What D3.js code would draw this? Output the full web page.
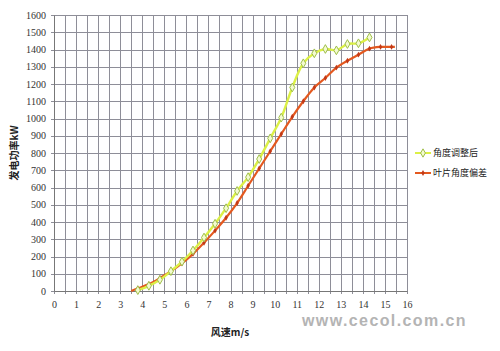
<!DOCTYPE html>
<html lang="zh">
<head>
<meta charset="utf-8">
<title>风速-发电功率曲线</title>
<script src="https://cdn.jsdelivr.net/npm/d3@7"></script>
<style>
    body { margin: 0; background: #fff; }
    svg { display: block; }
    .legend text { font-family: "Noto Sans CJK SC", sans-serif; font-size: 9px; fill: #222; }
    .title { font-family: "Noto Sans CJK SC", sans-serif; font-weight: bold; fill: #222; }
</style>
</head>
<body>
<script>
    // 风速 (m/s) 和功率 (kW)
    const speedAdj = [3.8, 4.3, 4.8, 5.3, 5.8, 6.3, 6.8, 7.3, 7.8, 8.3, 8.8, 9.3, 9.8, 10.3, 10.8, 11.3, 11.8, 12.3, 12.8, 13.3, 13.8, 14.3];
    const powerAdj = [5, 30, 65, 115, 170, 235, 310, 390, 480, 580, 660, 765, 885, 1005, 1180, 1320, 1378, 1403, 1395, 1432, 1436, 1470];

    const speedDev = [3.5, 3.8, 4.3, 4.8, 5.3, 5.8, 6.3, 6.8, 7.3, 7.8, 8.3, 8.8, 9.3, 9.8, 10.3, 10.8, 11.3, 11.8, 12.3, 12.8, 13.3, 13.8, 14.3, 14.8, 15.3, 15.45];
    const powerDev = [0, 15, 40, 75, 115, 160, 215, 280, 350, 425, 510, 610, 710, 810, 910, 1010, 1100, 1180, 1235, 1295, 1335, 1370, 1405, 1415, 1415, 1415];

    const seriesNames = ["角度调整后", "叶片角度偏差"];
    const xTicks = d3.range(0, 17, 1);
    const yTicks = d3.range(0, 1700, 100);

    const width = 500, height = 351;
    const margin = {top: 15, right: 93, bottom: 60, left: 54};

    const x = d3.scaleLinear().domain([0, 16]).range([margin.left, width - margin.right]);
    const y = d3.scaleLinear().domain([0, 1600]).range([height - margin.bottom, margin.top]);

    const svg = d3.select("body").append("svg")
        .attr("width", width)
        .attr("height", height);

    // grid, every 0.5 m/s and every 100 kW
    const grid = svg.append("g").attr("stroke", "#8e8e98").attr("stroke-width", 1);
    grid.selectAll("line.v")
        .data(d3.range(0, 16.5, 0.5))
        .join("line")
        .attr("class", "v")
        .attr("x1", d => Math.round(x(d)) + 0.5).attr("x2", d => Math.round(x(d)) + 0.5)
        .attr("y1", y(0) + 3).attr("y2", y(1600));
    grid.selectAll("line.h")
        .data(yTicks)
        .join("line")
        .attr("class", "h")
        .attr("x1", x(0) - 3).attr("x2", x(16))
        .attr("y1", d => Math.round(y(d)) + 0.5).attr("y2", d => Math.round(y(d)) + 0.5);

    // axes
    const xAxis = svg.append("g")
        .attr("transform", `translate(0,${y(0)})`)
        .call(d3.axisBottom(x).tickValues(xTicks).tickSize(0).tickPadding(10));
    xAxis.select(".domain").attr("stroke", "#777");

    const yAxis = svg.append("g")
        .attr("transform", `translate(${x(0)},0)`)
        .call(d3.axisLeft(y).tickValues(yTicks).tickFormat(d3.format("d")).tickSize(0).tickPadding(8));
    yAxis.select(".domain").attr("stroke", "#777");

    svg.selectAll(".tick text")
        .style("font-family", "'Liberation Serif', 'DejaVu Serif', serif")
        .style("font-size", "10px")
        .attr("fill", "#333");

    // lines
    const line = d3.line()
        .x(d => x(d[0]))
        .y(d => y(d[1]))
        .curve(d3.curveCatmullRom.alpha(0.5));

    const dev = d3.zip(speedDev, powerDev);
    const adj = d3.zip(speedAdj, powerAdj);

    svg.append("path")
        .datum(dev)
        .attr("d", line)
        .attr("fill", "none")
        .attr("stroke", "#e4591f")
        .attr("stroke-width", 2.2);

    svg.selectAll("path.mdev")
        .data(dev.slice(1, -1))
        .join("path")
        .attr("class", "mdev")
        .attr("d", d3.symbol(d3.symbolDiamond, 10))
        .attr("transform", d => `translate(${x(d[0])},${y(d[1])})`)
        .attr("fill", "#c23a18");

    svg.append("path")
        .datum(adj)
        .attr("d", line)
        .attr("fill", "none")
        .attr("stroke", "#dcf046")
        .attr("stroke-width", 2.4);

    svg.selectAll("path.madj")
        .data(adj)
        .join("path")
        .attr("class", "madj")
        .attr("d", d3.symbol(d3.symbolDiamond, 22))
        .attr("transform", d => `translate(${x(d[0])},${y(d[1])})`)
        .attr("fill", "#f4fbd0")
        .attr("stroke", "#9fbf4a")
        .attr("stroke-width", 1);

    // legend
    const legend = svg.append("g").attr("class", "legend")
        .attr("transform", "translate(415,153)");
    const lg = legend.selectAll("g")
        .data(seriesNames)
        .join("g")
        .attr("transform", (d, i) => `translate(0,${i * 20})`);
    lg.append("line")
        .attr("x1", 0).attr("x2", 16)
        .attr("stroke", (d, i) => i === 0 ? "#dcf046" : "#e4591f")
        .attr("stroke-width", 2);
    lg.append("path")
        .attr("d", (d, i) => d3.symbol(d3.symbolDiamond, i === 0 ? 20 : 10)())
        .attr("transform", "translate(8,0)")
        .attr("fill", (d, i) => i === 0 ? "#f4fbd0" : "#c23a18")
        .attr("stroke", (d, i) => i === 0 ? "#9fbf4a" : "none");
    lg.append("text")
        .attr("x", 18)
        .attr("dy", "0.35em")
        .text(d => d);

    // axis titles
    svg.append("text")
        .attr("class", "title")
        .attr("x", 230).attr("y", 336)
        .attr("text-anchor", "middle")
        .attr("font-size", 10)
        .text("风速m/s");

    svg.append("text")
        .attr("class", "title")
        .attr("transform", "translate(18,153) rotate(-90)")
        .attr("text-anchor", "middle")
        .attr("font-size", 10)
        .text("发电功率kW");

    // watermark
    svg.append("text")
        .attr("x", 302).attr("y", 326)
        .attr("font-family", "Liberation Sans, Arial, sans-serif")
        .attr("font-weight", "bold")
        .attr("font-size", 16)
        .attr("letter-spacing", 1.4)
        .attr("fill", "#b4b4b4")
        .text("www.cecol.com.cn");
</script>
</body>
</html>
